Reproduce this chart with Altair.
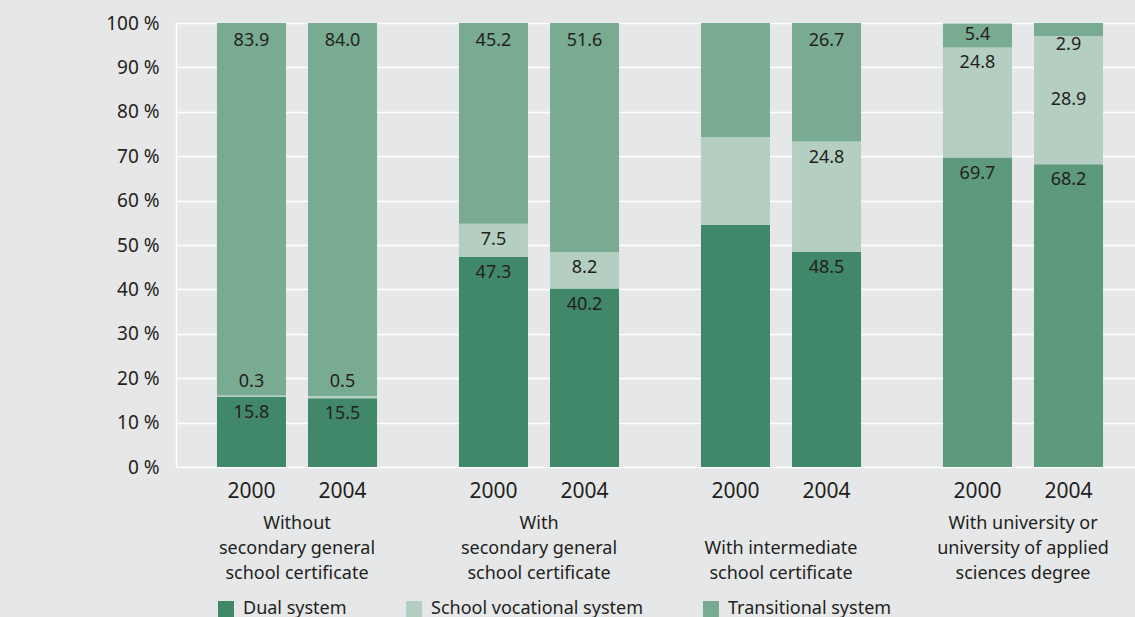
import altair as alt
import pandas as pd

# ---------------- data ----------------
group_keys = ["g1", "g2", "g3", "g4"]
group_labels = [
    "Without\nsecondary general\nschool certificate",
    "With\nsecondary general\nschool certificate",
    "With intermediate\nschool certificate",
    "With university or\nuniversity of applied\nsciences degree",
]
years = ["2000", "2004"]
systems = ["Dual system", "School vocational system", "Transitional system"]

# one value per bar: g1-2000, g1-2004, g2-2000, g2-2004, g3-2000, g3-2004, g4-2000, g4-2004
dual = [15.8, 15.5, 47.3, 40.2, 54.5, 48.5, 69.7, 68.2]
vocational = [0.3, 0.5, 7.5, 8.2, 19.8, 24.8, 24.8, 28.9]
transitional = [83.9, 84.0, 45.2, 51.6, 25.7, 26.7, 5.4, 2.9]
labelled = [True, True, True, True, False, True, True, True]

colors = {
    "Dual system": "#41876a",
    "School vocational system": "#b4cfc2",
    "Transitional system": "#79ab92",
    "Dual system (university)": "#5d9a7b",
}

# ---------------- layout constants ----------------
W, H = 959, 444
PX = H / 100.0  # pixels per percentage point

rows = []
for i in range(8):
    g = group_keys[i // 2]
    yr = years[i % 2]
    vals = [dual[i], vocational[i], transitional[i]]
    cum = 0.0
    for s, v in zip(systems, vals):
        start, end = cum, cum + v
        cum = end
        key = s
        if s == "Dual system" and g == "g4":
            key = "Dual system (university)"
        # label anchor (in data units)
        if v < 1:
            ly = end + 14 / PX
        elif s == "Transitional system" and v < 4:
            ly = end - 22 / PX
        elif s == "Transitional system" and v < 10:
            ly = (start + end) / 2
        elif s == "School vocational system" and transitional[i] < 4:
            ly = (start + end) / 2
        elif s == "Transitional system":
            ly = end - 18 / PX
        else:
            ly = end - 16 / PX
        rows.append(dict(group=g, year=yr, system=s, colorkey=key, start=start,
                         end=end, value=v, ly=ly,
                         label=(f"{v:.1f}" if labelled[i] else "")))
df = pd.DataFrame(rows)
lab_df = df[df["label"] != ""]

year_df = pd.DataFrame([dict(group=g, year=y) for g in group_keys for y in years])
grp_df = pd.DataFrame(dict(group=group_keys, text=group_labels))
grp_df["nlines"] = grp_df["text"].str.count("\n") + 1

FONT = "Noto Sans"
TXT = "#231f20"

xenc = alt.X("group:N", sort=group_keys, axis=None,
             scale=alt.Scale(range=[0, 968], paddingInner=0, paddingOuter=0))
xoff = alt.XOffset("year:N", sort=years,
                   scale=alt.Scale(paddingInner=0.242, paddingOuter=0.45))

bars = alt.Chart(df).mark_bar().encode(
    x=xenc,
    xOffset=xoff,
    y=alt.Y("start:Q", title="",
            scale=alt.Scale(domain=[0, 100], nice=False),
            axis=alt.Axis(values=list(range(0, 101, 10)),
                          labelExpr="datum.value + ' %'",
                          labelFontSize=19, labelColor=TXT, labelFont=FONT,
                          labelPadding=17, ticks=False,
                          domain=True, domainColor="white", domainWidth=1.5,
                          grid=True, gridColor="white", gridWidth=1.5)),
    y2="end:Q",
    color=alt.Color("colorkey:N",
                    scale=alt.Scale(domain=list(colors.keys()),
                                    range=list(colors.values())),
                    legend=alt.Legend(values=systems, title=None,
                                      orient="none", legendX=41, legendY=577,
                                      direction="horizontal",
                                      symbolType="square", symbolSize=256,
                                      symbolStrokeWidth=0, symbolOpacity=1,
                                      labelFontSize=18, labelFont=FONT,
                                      labelColor=TXT, labelOffset=8,
                                      labelLimit=400,
                                      columnPadding=58, padding=0)),
)

labels = alt.Chart(lab_df).mark_text(baseline="middle", fontSize=18,
                                      font=FONT, color=TXT).encode(
    x=xenc,
    xOffset=xoff,
    y=alt.Y("ly:Q"),
    text="label:N",
)

year_text = alt.Chart(year_df).mark_text(baseline="middle", fontSize=21,
                                          font=FONT, color=TXT).encode(
    x=xenc,
    xOffset=xoff,
    y=alt.value(H + 25),
    text="year:N",
)

grp_text3 = alt.Chart(grp_df[grp_df["nlines"] == 3]).mark_text(
    baseline="top", fontSize=18, font=FONT, color=TXT,
    lineBreak="\n", lineHeight=25).encode(
    x=xenc,
    y=alt.value(H + 48),
    text="text:N",
)

grp_text2 = alt.Chart(grp_df[grp_df["nlines"] == 2]).mark_text(
    baseline="top", fontSize=18, font=FONT, color=TXT,
    lineBreak="\n", lineHeight=25).encode(
    x=xenc,
    y=alt.value(H + 73),
    text="text:N",
)

chart = alt.layer(bars, labels, year_text, grp_text3, grp_text2).properties(
    width=W, height=H,
    autosize=alt.AutoSizeParams(type="none"),
    padding={"left": 176, "top": 23, "right": 0, "bottom": 150},
    background="#e6e7e8",
).configure_view(strokeWidth=0)

chart.save("out.html", embed_options={"renderer": "svg", "actions": False})
